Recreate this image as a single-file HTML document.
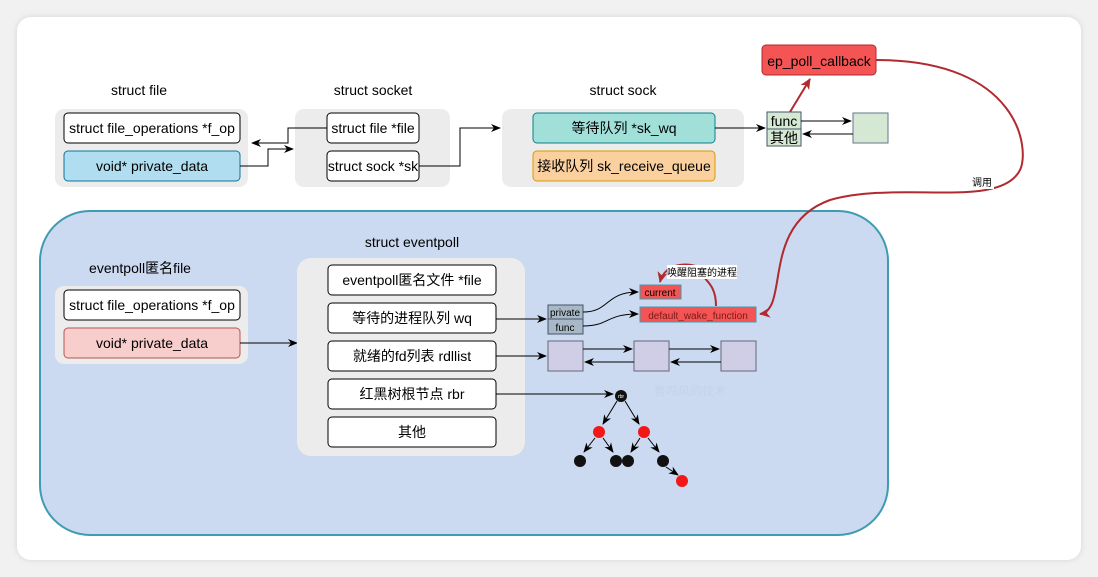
<!DOCTYPE html>
<html><head><meta charset="utf-8"><style>
html,body{margin:0;padding:0;background:#f1f1f1;}
svg{display:block;font-family:"Liberation Sans","Noto Sans CJK SC",sans-serif;}
</style></head><body>
<svg width="1098" height="577" viewBox="0 0 1098 577">
<defs>
<marker id="a" markerWidth="10" markerHeight="10" refX="9" refY="5" orient="auto" markerUnits="userSpaceOnUse"><path d="M0,1 L10,5 L0,9 L3,5 Z" fill="#000"/></marker>
<marker id="r" markerWidth="12" markerHeight="12" refX="10" refY="6" orient="auto" markerUnits="userSpaceOnUse"><path d="M0,1 L11,6 L0,11 L3,6 Z" fill="#b02a30"/></marker>
<filter id="sh" x="-5%" y="-5%" width="110%" height="110%"><feDropShadow dx="0" dy="0" stdDeviation="3" flood-color="#000" flood-opacity="0.12"/></filter>
</defs>
<rect x="17" y="17" width="1064" height="543" rx="14" fill="#fff" filter="url(#sh)"/>
<g font-size="14" text-anchor="middle" fill="#000">
<text x="139" y="95">struct file</text>
<text x="373" y="95">struct socket</text>
<text x="623" y="95">struct sock</text>
<rect x="55" y="109" width="193" height="78" rx="9" fill="#ececec"/>
<rect x="295" y="109" width="155" height="78" rx="9" fill="#ececec"/>
<rect x="502" y="109" width="242" height="78" rx="9" fill="#ececec"/>
<rect x="64" y="113" width="176" height="30" rx="4" fill="#fff" stroke="#000"/>
<text x="152" y="133">struct file_operations *f_op</text>
<rect x="64" y="151" width="176" height="30" rx="4" fill="#b1ddf0" stroke="#10739e"/>
<text x="152" y="171">void* private_data</text>
<rect x="327" y="113" width="92" height="30" rx="4" fill="#fff" stroke="#000"/>
<text x="373" y="133">struct file *file</text>
<rect x="327" y="151" width="92" height="30" rx="4" fill="#fff" stroke="#000"/>
<text x="373" y="171">struct sock *sk</text>
<rect x="533" y="113" width="182" height="30" rx="4" fill="#a0e0d8" stroke="#0e8088"/>
<text x="624" y="133">等待队列 *sk_wq</text>
<rect x="533" y="151" width="182" height="30" rx="4" fill="#fad09e" stroke="#d79b00"/>
<text x="624" y="171">接收队列 sk_receive_queue</text>
<path d="M327,128 H288 V143 H252" fill="none" stroke="#000" marker-end="url(#a)"/>
<path d="M240,166 H268 V149 H293" fill="none" stroke="#000" marker-end="url(#a)"/>
<path d="M419,166 H460 V128 H500" fill="none" stroke="#000" marker-end="url(#a)"/>
<path d="M715,128 H765" fill="none" stroke="#000" marker-end="url(#a)"/>
<rect x="767" y="112" width="34" height="17" fill="#d5e8d4" stroke="#456"/>
<rect x="767" y="129" width="34" height="17" fill="#d5e8d4" stroke="#456"/>
<text x="784" y="126">func</text>
<text x="784" y="143">其他</text>
<rect x="853" y="113" width="35" height="30" fill="#d5e8d4" stroke="#678"/>
<path d="M801,121 H851" stroke="#000" marker-end="url(#a)"/>
<path d="M853,134 H803" stroke="#000" marker-end="url(#a)"/>
<rect x="762" y="45" width="114" height="30" rx="4" fill="#f45454" stroke="#b02a30"/>
<text x="819" y="66">ep_poll_callback</text>
<path d="M790,112 L810,79" stroke="#b02a30" stroke-width="2" fill="none" marker-end="url(#r)"/>
<rect x="40" y="211" width="848" height="324" rx="50" fill="#cbd9f1" stroke="#3f9cb0" stroke-width="2"/>
<path d="M876,60 C1020,60 1030,150 1020,170 C1000,210 900,180 830,200 C760,225 790,310 760,314" stroke="#b02a30" stroke-width="2" fill="none" marker-end="url(#r)"/>
<rect x="972" y="175" width="22" height="14" fill="#fff"/>
<text x="982" y="186" font-size="10">调用</text>
<text x="412" y="247">struct eventpoll</text>
<text x="140" y="273">eventpoll匿名file</text>
<rect x="55" y="286" width="193" height="78" rx="9" fill="#ececec"/>
<rect x="64" y="290" width="176" height="30" rx="4" fill="#fff" stroke="#000"/>
<text x="152" y="310">struct file_operations *f_op</text>
<rect x="64" y="328" width="176" height="30" rx="4" fill="#f8cecc" stroke="#b85450"/>
<text x="152" y="348">void* private_data</text>
<path d="M240,343 H297" stroke="#000" marker-end="url(#a)"/>
<rect x="297" y="258" width="228" height="198" rx="14" fill="#ececec"/>
<rect x="328" y="265" width="168" height="30" rx="4" fill="#fff" stroke="#000"/>
<text x="412" y="285">eventpoll匿名文件 *file</text>
<rect x="328" y="303" width="168" height="30" rx="4" fill="#fff" stroke="#000"/>
<text x="412" y="323">等待的进程队列 wq</text>
<rect x="328" y="341" width="168" height="30" rx="4" fill="#fff" stroke="#000"/>
<text x="412" y="361">就绪的fd列表 rdllist</text>
<rect x="328" y="379" width="168" height="30" rx="4" fill="#fff" stroke="#000"/>
<text x="412" y="399">红黑树根节点 rbr</text>
<rect x="328" y="417" width="168" height="30" rx="4" fill="#fff" stroke="#000"/>
<text x="412" y="437">其他</text>
<path d="M496,319 H546" stroke="#000" marker-end="url(#a)"/>
<path d="M496,356 H546" stroke="#000" marker-end="url(#a)"/>
<path d="M496,394 H613" stroke="#000" marker-end="url(#a)"/>
<rect x="548" y="305" width="35" height="14" fill="#a9b8c6" stroke="#456"/>
<rect x="548" y="319" width="35" height="15" fill="#a9b8c6" stroke="#456"/>
<text x="565" y="316" font-size="10">private</text>
<text x="565" y="331" font-size="10">func</text>
<rect x="640" y="285" width="41" height="14" fill="#f45454" stroke="#3f9cb0"/>
<text x="660" y="296" font-size="10">current</text>
<rect x="640" y="307" width="116" height="15" fill="#f45454" stroke="#3f9cb0"/>
<text x="698" y="319" font-size="10" fill="#7a1a1a">default_wake_function</text>
<path d="M583,312 C610,312 605,292 638,292" fill="none" stroke="#000" marker-end="url(#a)"/>
<path d="M583,326 C610,326 605,314 638,314" fill="none" stroke="#000" marker-end="url(#a)"/>
<path d="M716,306 C716,280 700,280 700,268 C690,262 665,262 660,282" fill="none" stroke="#b02a30" stroke-width="2" marker-end="url(#r)"/>
<rect x="667" y="265" width="70" height="14" fill="#fff"/>
<text x="702" y="276" font-size="10">唤醒阻塞的进程</text>
<rect x="548" y="341" width="35" height="30" fill="#d0cde6" stroke="#667"/>
<rect x="634" y="341" width="35" height="30" fill="#d0cde6" stroke="#667"/>
<rect x="721" y="341" width="35" height="30" fill="#d0cde6" stroke="#667"/>
<path d="M583,349 H632" stroke="#000" marker-end="url(#a)"/>
<path d="M634,362 H585" stroke="#000" marker-end="url(#a)"/>
<path d="M669,349 H719" stroke="#000" marker-end="url(#a)"/>
<path d="M721,362 H671" stroke="#000" marker-end="url(#a)"/>
<text x="690" y="395" font-size="12" fill="#c8d2e6">鲁鸣风的技术</text>
<g stroke="#000" fill="none">
<path d="M617,401 L603,424" marker-end="url(#a)"/>
<path d="M625,401 L639,424" marker-end="url(#a)"/>
<path d="M595,438 L584,452" marker-end="url(#a)"/>
<path d="M603,438 L613,452" marker-end="url(#a)"/>
<path d="M640,438 L631,452" marker-end="url(#a)"/>
<path d="M648,438 L659,452" marker-end="url(#a)"/>
<path d="M666,467 L678,475" marker-end="url(#a)"/>
</g>
<circle cx="621" cy="396" r="6" fill="#111"/>
<text x="621" y="398" font-size="5" fill="#fff">rbr</text>
<circle cx="599" cy="432" r="6" fill="#f21818"/>
<circle cx="644" cy="432" r="6" fill="#f21818"/>
<circle cx="580" cy="461" r="6" fill="#111"/>
<circle cx="616" cy="461" r="6" fill="#111"/>
<circle cx="628" cy="461" r="6" fill="#111"/>
<circle cx="663" cy="461" r="6" fill="#111"/>
<circle cx="682" cy="481" r="6" fill="#f21818"/>
</g>
</svg>
</body></html>
